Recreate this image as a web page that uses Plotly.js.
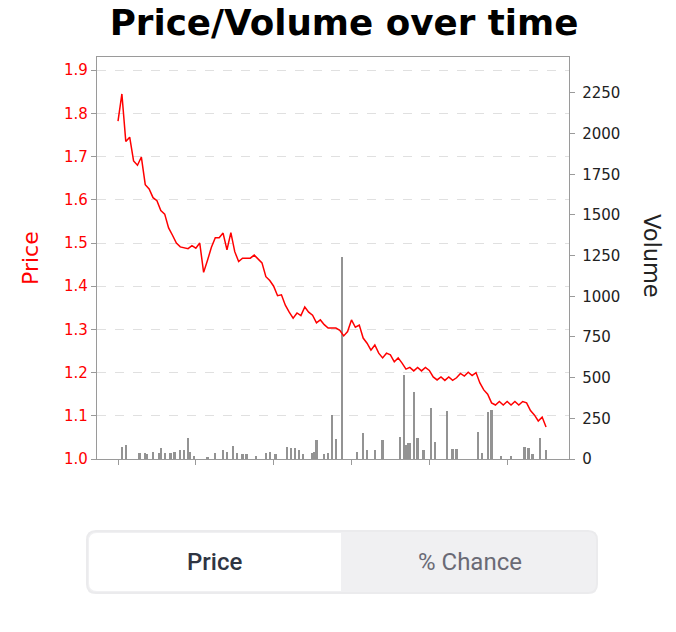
<!DOCTYPE html>
<html>
<head>
<meta charset="utf-8">
<script src="https://cdn.plot.ly/plotly-3.0.1.min.js"></script>
<style>
  html, body { margin: 0; padding: 0; background: #ffffff; }
  #chart { width: 676px; height: 632px; }
</style>
</head>
<body>
<div id="chart"></div>
<script>
// ---- Data ----
const price = [
  1.782, 1.845, 1.735, 1.745, 1.690, 1.680, 1.699, 1.635, 1.625, 1.605,
  1.598, 1.575, 1.567, 1.535, 1.518, 1.500, 1.491, 1.489, 1.487, 1.494,
  1.488, 1.500, 1.432, 1.460, 1.490, 1.512, 1.512, 1.523, 1.484, 1.524,
  1.480, 1.457, 1.465, 1.465, 1.465, 1.472, 1.462, 1.454, 1.422, 1.413,
  1.400, 1.378, 1.380, 1.356, 1.340, 1.326, 1.338, 1.332, 1.352, 1.340,
  1.333, 1.315, 1.322, 1.311, 1.303, 1.303, 1.303, 1.298, 1.285, 1.295,
  1.322, 1.305, 1.310, 1.280, 1.268, 1.252, 1.264, 1.245, 1.234, 1.245,
  1.241, 1.225, 1.234, 1.222, 1.208, 1.212, 1.204, 1.212, 1.204, 1.212,
  1.205, 1.190, 1.183, 1.190, 1.182, 1.190, 1.182, 1.188, 1.198, 1.192,
  1.201, 1.193, 1.200, 1.176, 1.160, 1.150, 1.130, 1.125, 1.133, 1.125,
  1.133, 1.125, 1.133, 1.125, 1.133, 1.130, 1.112, 1.102, 1.088, 1.097,
  1.074
];
const priceT = price.map((_, i) => i);   // time index of each price point

const volT = [1,2,5.5,7,7.5,9,10.5,11,12,13.5,
  14.5,16,17,18,18.5,19.5,23,25,27,28,
  29.5,30.5,32,33,35.5,38,39,40.5,43.5,44.5,
  45.5,46.5,47.5,50,50.5,51,53,54,55,56,
  57.5,61.5,63,64,66,68,72.5,73.5,74,74.5,
  75,76,77,78.5,80.5,81.5,84.5,86,87,92.5,
  93.5,95,96,98.5,101,104.5,105.5,106.5,108.5,110];
const volume = [74,86,39,37,30,45,37,66,35,37,
  45,55,55,127,45,20,15,37,55,45,
  80,37,30,30,20,37,40,30,76,66,
  66,55,30,37,45,117,30,37,272,120,
  1240,45,158,55,55,117,137,516,86,96,
  96,414,132,55,312,106,297,60,60,168,
  37,291,301,20,20,76,66,30,127,55];

const timeTicks = [0, 20, 40, 60, 80, 100];
const volumeTicks = [0, 250, 500, 750, 1000, 1250, 1500, 1750, 2000, 2250];
const chartTitle = 'Price/Volume over time';
const priceLabel = 'Price';
const volumeLabel = 'Volume';
const buttonLabels = ['Price', '% Chance'];

// ---- Geometry helpers (plot area in pixels) ----
const W = 676, H = 632;
const M = {l: 97, r: 107, t: 57, b: 173};
const PW = W - M.l - M.r, PH = H - M.t - M.b;
const px = x => (x - M.l) / PW;
const py = y => (H - M.b - y) / PH;

function roundRect(x0, y0, x1, y1, rl, rr) {
  // pixel coordinates -> paper path, rl/rr: radius of left/right corners
  const X = px, Y = py;
  const rxl = rl / PW, ryl = rl / PH, rxr = rr / PW, ryr = rr / PH;
  const a = X(x0), b = X(x1), top = Y(y0), bot = Y(y1);
  return `M ${a + rxl} ${top} L ${b - rxr} ${top} Q ${b} ${top} ${b} ${top - ryr} ` +
         `L ${b} ${bot + ryr} Q ${b} ${bot} ${b - rxr} ${bot} L ${a + rxl} ${bot} ` +
         `Q ${a} ${bot} ${a} ${bot + ryl} L ${a} ${top - ryl} Q ${a} ${top} ${a + rxl} ${top} Z`;
}

const traces = [
  {
    type: 'bar', x: volT, y: volume, yaxis: 'y', xaxis: 'x',
    width: 0.6,
    marker: {color: '#888888', line: {width: 0}},
    opacity: 0.9,
    hoverinfo: 'skip', showlegend: false
  },
  {
    type: 'scatter', mode: 'lines', x: priceT, y: price, yaxis: 'y2', xaxis: 'x',
    line: {color: '#ff0000', width: 1.5},
    hoverinfo: 'skip', showlegend: false
  }
];

const axisGray = '#9a9a9a';
const layout = {
  width: W, height: H,
  margin: M,
  paper_bgcolor: '#ffffff', plot_bgcolor: '#ffffff',
  showlegend: false,
  bargap: 0,
  title: {
    text: chartTitle,
    x: 344 / W, xref: 'container', xanchor: 'center',
    y: 1 - 23 / H, yref: 'container', yanchor: 'middle',
    font: {family: 'DejaVu Sans', size: 35.7, color: '#000000', weight: 'bold'}
  },
  xaxis: {
    range: [-5.4, 115.9],
    tickvals: timeTicks, showticklabels: false,
    ticks: 'outside', ticklen: 5, tickcolor: axisGray, tickwidth: 1,
    showline: true, linecolor: axisGray, linewidth: 1.2, mirror: true,
    showgrid: false, zeroline: false, fixedrange: true
  },
  yaxis: {
    side: 'right',
    range: [0, 2471],
    tickvals: volumeTicks,
    ticks: 'outside', ticklen: 5, tickcolor: axisGray,
    showline: true, linecolor: axisGray, linewidth: 1.2,
    showgrid: false, zeroline: false,
    tickfont: {family: 'DejaVu Sans', size: 15, color: '#222222'},
    ticklabelstandoff: 4,
    fixedrange: true
  },
  yaxis2: {
    overlaying: 'y', side: 'left',
    range: [1.0, 1.9306],
    tick0: 1.0, dtick: 0.1, tickformat: '.1f',
    ticks: 'outside', ticklen: 5, tickcolor: axisGray,
    showline: true, linecolor: axisGray, linewidth: 1.2,
    showgrid: true, gridcolor: '#e0e0e0', griddash: 'dash', gridwidth: 1,
    zeroline: false,
    tickfont: {family: 'DejaVu Sans', size: 15, color: '#ff0000'},
    fixedrange: true
  },
  annotations: [
    {
      text: priceLabel, xref: 'paper', yref: 'paper',
      x: px(30), y: py(258), xanchor: 'center', yanchor: 'middle',
      textangle: -90, showarrow: false,
      font: {family: 'DejaVu Sans', size: 22, color: '#ff0000'}
    },
    {
      text: volumeLabel, xref: 'paper', yref: 'paper',
      x: px(652), y: py(256), xanchor: 'center', yanchor: 'middle',
      textangle: 90, showarrow: false,
      font: {family: 'DejaVu Sans', size: 22.5, color: '#222222'}
    },
    {
      text: buttonLabels[0], xref: 'paper', yref: 'paper',
      x: px(214), y: py(562), xanchor: 'center', yanchor: 'middle',
      showarrow: false,
      font: {family: 'Roboto', size: 24, color: '#2f3542', weight: 500}
    },
    {
      text: buttonLabels[1], xref: 'paper', yref: 'paper',
      x: px(470), y: py(562), xanchor: 'center', yanchor: 'middle',
      showarrow: false,
      font: {family: 'Roboto', size: 24, color: '#6a6a75'}
    }
  ],
  shapes: [
    {
      type: 'path', xref: 'paper', yref: 'paper', layer: 'below',
      path: roundRect(87, 531, 597, 593, 9, 9),
      fillcolor: '#f0f0f2', line: {color: '#ebebed', width: 2}
    },
    {
      type: 'path', xref: 'paper', yref: 'paper', layer: 'below',
      path: roundRect(89, 533, 341, 591, 8, 0),
      fillcolor: '#ffffff', line: {width: 0}
    }
  ]
};

Plotly.newPlot('chart', traces, layout, {displayModeBar: false, staticPlot: true});
</script>
</body>
</html>
